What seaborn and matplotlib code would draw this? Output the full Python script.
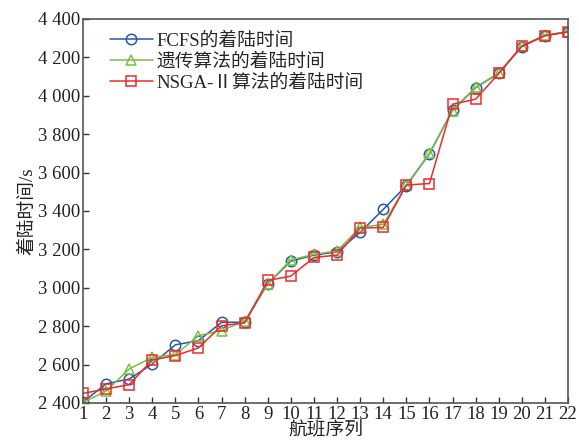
import numpy as np
import pandas as pd
import seaborn as sns
import matplotlib.pyplot as plt
from matplotlib.ticker import FuncFormatter, MultipleLocator

flights = list(range(1, 23))
fcfs = [2405, 2500, 2525, 2603, 2703, 2725, 2820, 2821, 3021, 3139, 3170, 3187,
        3289, 3408, 3532, 3698, 3925, 4042, 4117, 4256, 4313, 4333]
ga = [2403, 2462, 2577, 2638, 2652, 2751, 2777, 2828, 3022, 3145, 3174, 3192,
      3315, 3330, 3535, 3700, 3923, 4044, 4119, 4260, 4317, 4333]
nsga = [2450, 2473, 2496, 2624, 2647, 2687, 2803, 2817, 3038, 3061, 3158, 3170,
        3311, 3314, 3535, 3543, 3956, 3982, 4116, 4258, 4313, 4333]
names = ["FCFS的着陆时间", "遗传算法的着陆时间", "NSGA-Ⅱ算法的着陆时间"]
colors = ["#2a56aa", "#78c043", "#ec2a2a"]
markers = ["o", "^", "s"]

sns.set_theme(style="ticks")
plt.rcParams['font.family'] = ['Liberation Serif', 'Noto Sans CJK SC']
plt.rcParams['axes.unicode_minus'] = False

fig = plt.figure(figsize=(5.79, 4.45), dpi=100)
ax = fig.add_axes([0.1434, 0.0944, 0.8376, 0.8630])

for name, vals, c, m in zip(names, [fcfs, ga, nsga], colors, markers):
    df = pd.DataFrame({"flight": flights, "time": vals})
    sns.lineplot(data=df, x="flight", y="time", ax=ax, color=c, marker=m,
                 markersize=7.5, markerfacecolor="none", markeredgecolor=c,
                 markeredgewidth=1.1, linewidth=1.1, label=name)

ax.set_xlim(1, 22)
ax.set_ylim(2400, 4400)
ax.xaxis.set_major_locator(MultipleLocator(1))
ax.yaxis.set_major_locator(MultipleLocator(200))
ax.yaxis.set_major_formatter(FuncFormatter(lambda v, p: f"{int(v):,}".replace(",", " ")))
ax.tick_params(direction="in", length=4, width=1, labelsize=13.5, colors="#333333",
               labelcolor="#222222", pad=2)
for s in ax.spines.values():
    s.set_color("#555555")
    s.set_linewidth(1.2)

ax.set_xlabel("航班序列", fontsize=13.5, labelpad=-1, color="#222222")
ax.set_ylabel("着陆时间/s", fontsize=13.5, labelpad=1, color="#222222")

ax.legend(loc="upper left", frameon=False, fontsize=13.5, handlelength=2.3,
          handletextpad=0.2, labelspacing=0.2, borderaxespad=0.5,
          bbox_to_anchor=(0.02, 1.01))

fig.savefig("out.png", dpi=100)
